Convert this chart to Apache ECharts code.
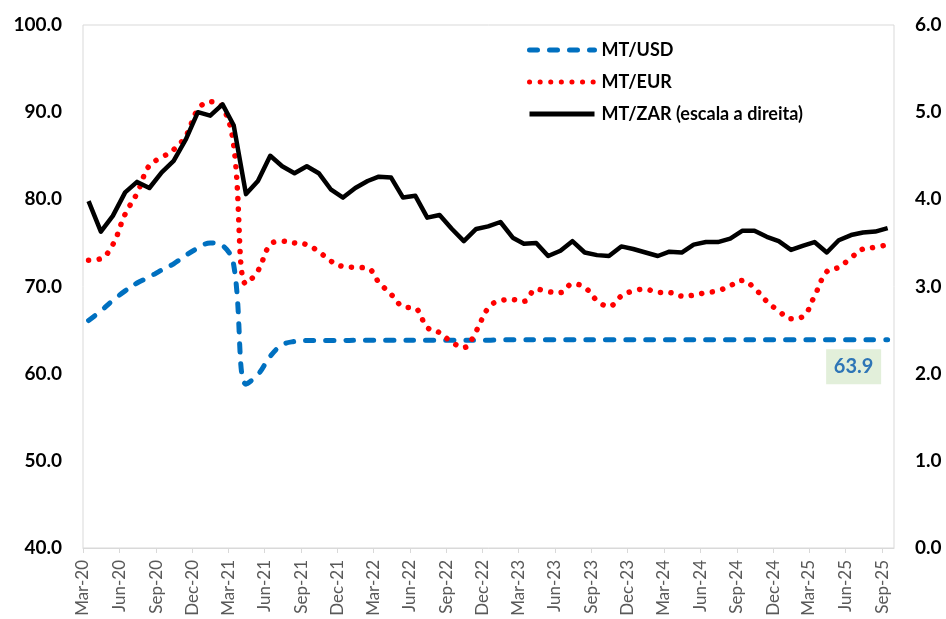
<!DOCTYPE html>
<html>
<head>
<meta charset="utf-8">
<script src="https://cdn.jsdelivr.net/npm/echarts@6/dist/echarts.min.js"></script>
<style>
  html, body { margin: 0; padding: 0; background: #fff; }
  #chart { width: 946px; height: 619px; }
</style>
</head>
<body>
<div id="chart"></div>
<script>
// monthly, Mar-20 .. Sep-25
const months = [
  '2020-03','2020-04','2020-05','2020-06','2020-07','2020-08','2020-09','2020-10','2020-11','2020-12',
  '2021-01','2021-02','2021-03','2021-04','2021-05','2021-06','2021-07','2021-08','2021-09','2021-10','2021-11','2021-12',
  '2022-01','2022-02','2022-03','2022-04','2022-05','2022-06','2022-07','2022-08','2022-09','2022-10','2022-11','2022-12',
  '2023-01','2023-02','2023-03','2023-04','2023-05','2023-06','2023-07','2023-08','2023-09','2023-10','2023-11','2023-12',
  '2024-01','2024-02','2024-03','2024-04','2024-05','2024-06','2024-07','2024-08','2024-09','2024-10','2024-11','2024-12',
  '2025-01','2025-02','2025-03','2025-04','2025-05','2025-06','2025-07','2025-08','2025-09'
]

const mtUsd = [
  66.1, 67.2, 68.4, 69.5, 70.4, 71.1, 71.9, 72.6, 73.6, 74.4,
  75.0, 74.7, 72.5, 58.8, 59.9, 62.0, 63.3, 63.7, 63.8, 63.8, 63.8, 63.8,
  63.83, 63.83, 63.83, 63.83, 63.83, 63.83, 63.83, 63.83, 63.83, 63.83, 63.83, 63.83,
  63.9, 63.9, 63.9, 63.9, 63.9, 63.9, 63.9, 63.9, 63.9, 63.9, 63.9, 63.9,
  63.9, 63.9, 63.9, 63.9, 63.9, 63.9, 63.9, 63.9, 63.9, 63.9, 63.9, 63.9,
  63.9, 63.9, 63.9, 63.9, 63.9, 63.9, 63.9, 63.9, 63.9
]

const mtEur = [
  73.0, 73.2, 74.8, 78.3, 80.7, 83.9, 84.8, 85.7, 87.3, 90.3,
  91.2, 90.6, 86.2, 70.3, 71.8, 74.8, 75.2, 75.0, 74.8, 74.0, 72.9, 72.3,
  72.2, 72.1, 70.5, 69.1, 67.7, 67.5, 65.3, 64.7, 63.6, 63.0, 64.9, 67.5,
  68.4, 68.5, 68.3, 69.7, 69.4, 69.3, 70.3, 69.9, 68.4, 67.7, 68.9, 69.5,
  69.7, 69.3, 69.3, 68.9, 69.0, 69.3, 69.5, 70.1, 70.7, 69.8, 68.3, 67.2,
  66.3, 66.6, 68.9, 71.7, 72.2, 73.3, 74.3, 74.5, 74.8
]

const mtZar = [
  3.98, 3.63, 3.81, 4.08, 4.20, 4.13, 4.31, 4.44, 4.69, 5.00,
  4.96, 5.09, 4.85, 4.06, 4.21, 4.50, 4.38, 4.30, 4.38, 4.30, 4.11, 4.02,
  4.13, 4.21, 4.26, 4.25, 4.02, 4.04, 3.79, 3.82, 3.66, 3.52, 3.66, 3.69,
  3.74, 3.56, 3.49, 3.50, 3.35, 3.41, 3.52, 3.39, 3.36, 3.35, 3.46, 3.43,
  3.39, 3.35, 3.40, 3.39, 3.48, 3.51, 3.51, 3.55, 3.64, 3.64, 3.57, 3.52,
  3.42, 3.47, 3.51, 3.39, 3.53, 3.59, 3.62, 3.63, 3.67
]

const monthNames = ['Jan','Feb','Mar','Apr','May','Jun','Jul','Aug','Sep','Oct','Nov','Dec']
const seriesNames = ['MT/USD', 'MT/EUR', 'MT/ZAR (escala a direita)']

const toTime = s => new Date(s + 'T00:00:00').getTime()

// x-axis labels every 3 months (Mar, Jun, Sep, Dec)
const tickMonths = months.filter((m, i) => i % 3 === 0)
const tickValues = tickMonths.map(m => toTime(m + '-01'))

// points sit mid-month like in the source sheet
const pointTime = m => toTime(m + '-15')
const pairs = arr => arr.map((v, i) => [pointTime(months[i]), v])

const fmtMonth = (v) => {
  const d = new Date(v)
  return monthNames[d.getMonth()] + '-' + String(d.getFullYear()).slice(2)
}

const FONT = 'Lato'
const lastIdx = months.length - 1

const chart = echarts.init(document.getElementById('chart'))
chart.setOption({
  animation: false,
  textStyle: { fontFamily: FONT },
  grid: {
    left: 83, right: 52, top: 25, bottom: 71,
    show: true, borderColor: '#d9d9d9', borderWidth: 1
  },
  legend: {
    data: seriesNames,
    orient: 'vertical',
    left: 522, top: 36,
    itemWidth: 65, itemHeight: 14, itemGap: 14,
    itemStyle: { opacity: 0 },   // hide the symbol, keep only the line
    lineStyle: { width: 5 },
    textStyle: { fontFamily: FONT, fontSize: 18, fontWeight: 'bold', color: '#000', padding: [0, 0, 0, 2] }
  },
  xAxis: {
    type: 'value',
    min: toTime(months[0] + '-01'),
    max: toTime('2025-10-01'),
    axisLine: { show: true, lineStyle: { color: '#d9d9d9' } },
    axisTick: { show: true, customValues: tickValues, length: 5, lineStyle: { color: '#d9d9d9' } },
    axisLabel: {
      customValues: tickValues, rotate: 90, margin: 12,
      fontSize: 17, color: '#595959', formatter: fmtMonth
    },
    splitLine: { show: false }
  },
  yAxis: [{
    type: 'value', min: 40, max: 100, interval: 10,
    axisLine: { show: false }, axisTick: { show: false }, splitLine: { show: false },
    axisLabel: { margin: 21, fontSize: 19, fontWeight: 'bold', color: '#000', formatter: v => v.toFixed(1) }
  }, {
    type: 'value', min: 0, max: 6, interval: 1,
    axisLine: { show: false }, axisTick: { show: false }, splitLine: { show: false },
    axisLabel: { margin: 21, fontSize: 19, fontWeight: 'bold', color: '#000', formatter: v => v.toFixed(1) }
  }],
  series: [{
    name: seriesNames[0],
    type: 'line',
    yAxisIndex: 0,
    data: pairs(mtUsd),
    symbol: 'none',
    smooth: 0.4,
    lineStyle: { color: '#0070C0', width: 5, type: [8, 12], cap: 'round' },
    itemStyle: { color: '#0070C0' },
    markPoint: {
      symbol: 'rect',
      symbolSize: [55, 35],
      symbolOffset: [-34, 27],
      itemStyle: { color: '#E2EFDA' },
      label: {
        show: true, color: '#2E75B6', fontSize: 20, fontWeight: 'bold',
        fontFamily: FONT, formatter: p => p.value.toFixed(1)
      },
      data: [{ coord: [pointTime(months[lastIdx]), mtUsd[lastIdx]], value: mtUsd[lastIdx] }]
    }
  }, {
    name: seriesNames[1],
    type: 'line',
    yAxisIndex: 0,
    data: pairs(mtEur),
    symbol: 'none',
    smooth: 0.4,
    lineStyle: { color: '#FF0000', width: 5.5, type: [0.1, 10.5], cap: 'round' },
    itemStyle: { color: '#FF0000' }
  }, {
    name: seriesNames[2],
    type: 'line',
    yAxisIndex: 1,
    data: pairs(mtZar),
    symbol: 'none',
    lineStyle: { color: '#000', width: 4.5, join: 'round' },
    itemStyle: { color: '#000' }
  }]
})
</script>
</body>
</html>
